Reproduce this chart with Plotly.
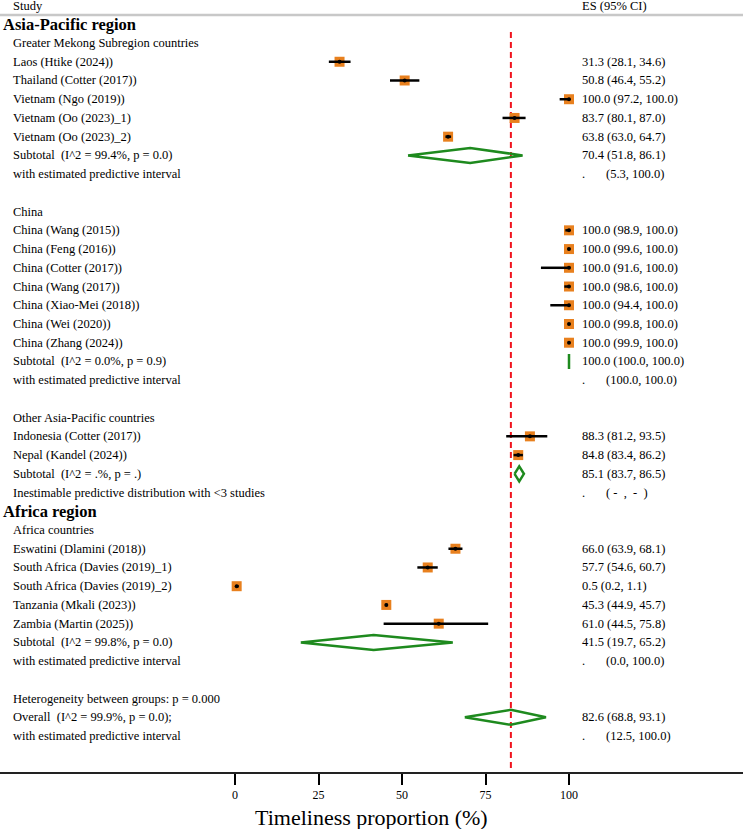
import plotly.graph_objects as go

# ---------------- data ----------------
study_labels = [
    "Laos (Htike (2024))", "Thailand (Cotter (2017))", "Vietnam (Ngo (2019))",
    "Vietnam (Oo (2023)_1)", "Vietnam (Oo (2023)_2)",
    "China (Wang (2015))", "China (Feng (2016))", "China (Cotter (2017))",
    "China (Wang (2017))", "China (Xiao-Mei (2018))", "China (Wei (2020))",
    "China (Zhang (2024))",
    "Indonesia (Cotter (2017))", "Nepal (Kandel (2024))",
    "Eswatini (Dlamini (2018))", "South Africa (Davies (2019)_1)",
    "South Africa (Davies (2019)_2)", "Tanzania (Mkali (2023))", "Zambia (Martin (2025))",
]
study_es = [31.3, 50.8, 100.0, 83.7, 63.8,
            100.0, 100.0, 100.0, 100.0, 100.0, 100.0, 100.0,
            88.3, 84.8,
            66.0, 57.7, 0.5, 45.3, 61.0]
study_lo = [28.1, 46.4, 97.2, 80.1, 63.0,
            98.9, 99.6, 91.6, 98.6, 94.4, 99.8, 99.9,
            81.2, 83.4,
            63.9, 54.6, 0.2, 44.9, 44.5]
study_hi = [34.6, 55.2, 100.0, 87.0, 64.7,
            100.0, 100.0, 100.0, 100.0, 100.0, 100.0, 100.0,
            93.5, 86.2,
            68.1, 60.7, 1.1, 45.7, 75.8]
study_rows = [2, 3, 4, 5, 6, 11, 12, 13, 14, 15, 16, 17, 22, 23, 28, 29, 30, 31, 32]

subtotal_labels = ["Subtotal  (I^2 = 99.4%, p = 0.0)", "Subtotal  (I^2 = 0.0%, p = 0.9)",
                   "Subtotal  (I^2 = .%, p = .)", "Subtotal  (I^2 = 99.8%, p = 0.0)",
                   "Overall  (I^2 = 99.9%, p = 0.0);"]
subtotal_es = [70.4, 100.0, 85.1, 41.5, 82.6]
subtotal_lo = [51.8, 100.0, 83.7, 19.7, 68.8]
subtotal_hi = [86.1, 100.0, 86.5, 65.2, 93.1]
subtotal_rows = [7, 18, 24, 33, 37]

pi_labels = ["with estimated predictive interval", "with estimated predictive interval",
             "Inestimable predictive distribution with <3 studies",
             "with estimated predictive interval", "with estimated predictive interval"]
pi_text = ["(5.3, 100.0)", "(100.0, 100.0)", "( -  ,  -  )", "(0.0, 100.0)", "(12.5, 100.0)"]
pi_rows = [8, 19, 25, 34, 38]

region_labels = ["Asia-Pacific region", "Africa region"]
region_rows = [0, 26]
group_labels = ["Greater Mekong Subregion countries", "China", "Other Asia-Pacific countries",
                "Africa countries", "Heterogeneity between groups: p = 0.000"]
group_rows = [1, 10, 21, 27, 36]

x_ticks = [0, 25, 50, 75, 100]
x_title = "Timeliness proportion (%)"
overall_es = 82.6

# ---------------- layout constants ----------------
W, H = 743, 829
FONT = "Liberation Serif"
ROW0, ROWH = 24.3, 18.73
PLOT_BOTTOM = 772
X0PX, PXU = 235, 3.34
FS = 12.5


def row_of(px):
    return (px - ROW0) / ROWH


y_top, y_bot = row_of(0), row_of(PLOT_BOTTOM)
x_left, x_right = -X0PX / PXU, (W - X0PX) / PXU

fig = go.Figure()

# red dashed overall line
fig.add_trace(go.Scatter(x=[overall_es, overall_es], y=[row_of(32), y_bot], mode="lines",
                         line=dict(color="#F0141E", width=2, dash="6px,4px"),
                         hoverinfo="skip", showlegend=False))

# CI lines
cx, cy = [], []
for lo, hi, r in zip(study_lo, study_hi, study_rows):
    cx += [lo, hi, None]
    cy += [r, r, None]

# orange squares
fig.add_trace(go.Scatter(x=study_es, y=study_rows, mode="markers",
                         marker=dict(symbol="square", size=10, color="#E8801E",
                                     line=dict(width=0)),
                         hoverinfo="skip", showlegend=False))
fig.add_trace(go.Scatter(x=cx, y=cy, mode="lines", line=dict(color="black", width=2.5),
                         hoverinfo="skip", showlegend=False))
fig.add_trace(go.Scatter(x=study_es, y=study_rows, mode="markers",
                         marker=dict(symbol="circle", size=4, color="black"),
                         hoverinfo="skip", showlegend=False))

# diamonds
dh = 0.4
dx, dy = [], []
for es, lo, hi, r in zip(subtotal_es, subtotal_lo, subtotal_hi, subtotal_rows):
    dx += [lo, es, hi, es, lo, None]
    dy += [r, r - dh, r, r + dh, r, None]
fig.add_trace(go.Scatter(x=dx, y=dy, mode="lines", line=dict(color="#1E8A1E", width=2.5),
                         hoverinfo="skip", showlegend=False))

ann = []
def txt(x_px, y_row, s, size=FS, bold=False, xanchor="left"):
    ann.append(dict(x=x_px / W, xref="paper", y=y_row, yref="y", text=("<b>%s</b>" % s) if bold else s,
                    showarrow=False, xanchor=xanchor, yanchor="middle",
                    font=dict(family=FONT, size=size, color="black")))

TX, EX, PX2, HX = 11, 580, 604, 1
txt(TX, row_of(6), "Study")
txt(EX, row_of(6), "ES (95% CI)")
for s, r in zip(region_labels, region_rows):
    txt(HX, r, s, size=16.5, bold=True)
for s, r in zip(group_labels, group_rows):
    txt(TX, r, s)
for s, r, es, lo, hi in zip(study_labels, study_rows, study_es, study_lo, study_hi):
    txt(TX, r, s)
    txt(EX, r, "%.1f (%.1f, %.1f)" % (es, lo, hi))
for s, r, es, lo, hi in zip(subtotal_labels, subtotal_rows, subtotal_es, subtotal_lo, subtotal_hi):
    txt(TX, r, s)
    txt(EX, r, "%.1f (%.1f, %.1f)" % (es, lo, hi))
for s, r, t in zip(pi_labels, pi_rows, pi_text):
    txt(TX, r, s)
    txt(EX, r, ".")
    txt(PX2, r, t)

# axis title
ann.append(dict(x=0.5, xref="paper", y=1 - 817 / PLOT_BOTTOM, yref="paper", text=x_title,
                showarrow=False, xanchor="center", yanchor="middle",
                font=dict(family=FONT, size=22, color="black")))

fig.update_layout(
    width=W, height=H, margin=dict(l=0, r=0, t=0, b=H - PLOT_BOTTOM),
    paper_bgcolor="white", plot_bgcolor="white",
    annotations=ann,
    shapes=[dict(type="line", xref="paper", x0=0, x1=1, yref="y", y0=row_of(15), y1=row_of(15),
                 line=dict(color="#C8C8C8", width=2.5))],
    xaxis=dict(range=[x_left, x_right], tickvals=x_ticks, ticktext=[str(t) for t in x_ticks],
               ticks="outside", ticklen=11, tickwidth=2, tickcolor="black",
               showline=True, linecolor="#222", linewidth=2, showgrid=False, zeroline=False,
               tickfont=dict(family=FONT, size=12, color="black"), fixedrange=True),
    yaxis=dict(range=[y_bot, y_top], showgrid=False, zeroline=False, showticklabels=False,
               showline=False, ticks="", fixedrange=True),
)

fig.write_html("out.html")
